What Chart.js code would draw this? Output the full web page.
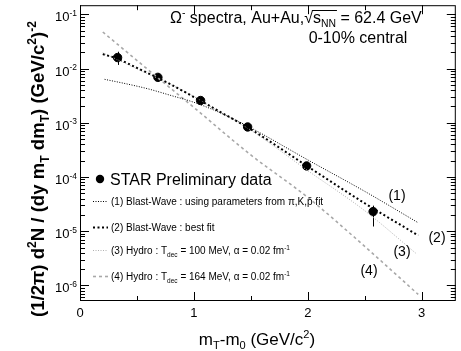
<!DOCTYPE html>
<html>
<head>
<meta charset="utf-8">
<script src="https://cdn.jsdelivr.net/npm/chart.js@4.4.0/dist/chart.umd.min.js"></script>
<style>
  body { margin: 0; background: #fff; }
  canvas { display: block; }
</style>
</head>
<body>
<canvas id="spectra" width="461" height="351"></canvas>
<script>
// STAR preliminary points
const starX = [0.33, 0.684, 1.059, 1.472, 1.99, 2.574];
const starY = [1.60e-2, 6.90e-3, 2.58e-3, 8.38e-4, 1.60e-4, 2.30e-5];
const starLow = [1.17e-2, 5.83e-3, 2.32e-3, 7.7e-4, 1.41e-4, 1.22e-5];
const starHigh = [2.05e-2, 8.17e-3, 2.87e-3, 9.1e-4, 1.82e-4, 2.96e-5];

// (1) blast-wave with pi,K,p parameters
const bw1X = [0.216, 0.4, 0.6, 0.8, 1.0, 1.25, 1.5, 2.0, 2.5, 2.97];
const bw1Y = [6.34e-3, 5.28e-3, 4.22e-3, 3.19e-3, 2.39e-3, 1.47e-3, 8.07e-4, 2.07e-4, 5.44e-5, 1.43e-5];
// (2) blast-wave best fit
const bw2X = [0.2, 0.33, 0.5, 0.75, 1.0, 1.25, 1.5, 2.0, 2.5, 2.97];
const bw2Y = [1.85e-2, 1.52e-2, 1.03e-2, 5.75e-3, 2.99e-3, 1.51e-3, 7.60e-4, 1.56e-4, 3.28e-5, 8.34e-6];
// (3) hydro Tdec = 100 MeV
const hy100X = [0.2, 0.5, 0.75, 1.0, 1.25, 1.5, 2.0, 2.5, 2.95];
const hy100Y = [1.95e-2, 9.95e-3, 5.64e-3, 3.05e-3, 1.49e-3, 7.30e-4, 1.31e-4, 2.39e-5, 3.9e-6];
// (4) hydro Tdec = 164 MeV
const hy164X = [0.2, 0.6, 1.0, 1.5, 2.0, 2.5, 2.97];
const hy164Y = [4.74e-2, 9.46e-3, 1.92e-3, 2.55e-4, 4.2e-5, 5.25e-6, 6.8e-7];

const xTickValues = [0, 1, 2, 3];
const xTickLabels = ['0', '1', '2', '3'];
const yTickExps = [-6, -5, -4, -3, -2, -1];

const pts = (xs, ys) => xs.map((x, i) => ({ x: x, y: ys[i] }));
const FAM = '"Liberation Sans", Arial, Helvetica, sans-serif';

function drawRich(c, parts, x, y, size, bold, align) {
    const w = bold ? 'bold ' : '';
    let total = 0;
    parts.forEach(p => {
        const s = p[1] ? size * 0.65 : size;
        c.font = w + s + 'px ' + FAM;
        p.w = c.measureText(p[0]).width;
        total += p.w;
    });
    let cx = align === 'right' ? x - total : align === 'center' ? x - total / 2 : x;
    parts.forEach(p => {
        const s = p[1] ? size * 0.65 : size;
        c.font = w + s + 'px ' + FAM;
        const dy = p[1] === 'sup' ? -size * 0.42 : p[1] === 'sub' ? size * 0.25 : 0;
        p.x0 = cx;
        c.fillText(p[0], cx, y + dy);
        cx += p.w;
    });
    return parts;
}

const decor = {
    id: 'decor',
    beforeDatasetsDraw(chart) {
        const c = chart.ctx, xs = chart.scales.x, ys = chart.scales.y;
        c.save();
        c.strokeStyle = '#000';
        c.lineWidth = 1;
        starX.forEach((x, i) => {
            const px = Math.round(xs.getPixelForValue(x)) + 0.5;
            c.beginPath();
            c.moveTo(px, ys.getPixelForValue(starLow[i]));
            c.lineTo(px, ys.getPixelForValue(starHigh[i]));
            c.stroke();
        });
        c.restore();
    },
    afterDraw(chart) {
        const c = chart.ctx, a = chart.chartArea;
        const xs = chart.scales.x, ys = chart.scales.y;
        c.save();
        c.fillStyle = '#000';
        c.strokeStyle = '#000';
        c.lineWidth = 1;
        c.textBaseline = 'alphabetic';
        // frame
        c.strokeRect(a.left + 0.5, a.top + 0.5, a.right - a.left - 1, a.bottom - a.top - 1);

        // y ticks (log, inward both sides)
        c.beginPath();
        for (let n = -7; n <= 0; n++) {
            for (let k = 1; k <= 9; k++) {
                const v = k * Math.pow(10, n);
                if (v < ys.min || v > ys.max) continue;
                const py = Math.round(ys.getPixelForValue(v)) + 0.5;
                const len = k === 1 ? 9 : 5;
                c.moveTo(a.left, py); c.lineTo(a.left + len, py);
                c.moveTo(a.right, py); c.lineTo(a.right - len, py);
            }
        }
        // x ticks every 0.5
        for (let i = 0; i <= 6; i++) {
            const v = i * 0.5;
            const px = Math.round(xs.getPixelForValue(v)) + 0.5;
            const len = i % 2 === 0 ? 9 : 5;
            c.moveTo(px, a.bottom); c.lineTo(px, a.bottom - len);
            c.moveTo(px, a.top); c.lineTo(px, a.top + len);
        }
        c.stroke();

        // y tick labels
        yTickExps.forEach(n => {
            const py = ys.getPixelForValue(Math.pow(10, n));
            drawRich(c, [['10'], [String(n), 'sup']], 77, py + 7, 13, false, 'right');
        });
        // x tick labels
        c.font = '13px ' + FAM;
        c.textAlign = 'center';
        xTickValues.forEach((v, i) => {
            c.fillText(xTickLabels[i], xs.getPixelForValue(v), 317);
        });
        c.textAlign = 'left';

        // axis titles
        drawRich(c, [['m'], ['T', 'sub'], ['-m'], ['0', 'sub'], [' (GeV/c'], ['2', 'sup'], [')']], 257, 345, 17, false, 'center');
        c.save();
        c.translate(44, 169);
        c.rotate(-Math.PI / 2);
        drawRich(c, [['(1/2π) d'], ['2', 'sup'], ['N / (dy m'], ['T', 'sub'], [' dm'], ['T', 'sub'], [') (GeV/c'], ['2', 'sup'], [')'], ['-2', 'sup']], 0, 0, 18.6, true, 'center');
        c.restore();

        // header text
        const head = drawRich(c, [['Ω'], ['-', 'sup'], [' spectra, Au+Au,'], ['√'], ['s'], ['NN', 'sub'], [' = 62.4 GeV']], 170, 23, 16, false, 'left');
        c.beginPath();
        c.moveTo(head[3].x0 + head[3].w - 1, 10.5);
        c.lineTo(head[5].x0 + head[5].w + 1, 10.5);
        c.stroke();
        c.font = '16px ' + FAM;
        c.textAlign = 'center';
        c.fillText('0-10% central', 358, 43);

        // curve labels
        c.font = '14px ' + FAM;
        c.fillText('(1)', 397, 200);
        c.fillText('(2)', 437, 242);
        c.fillText('(3)', 402, 256);
        c.fillText('(4)', 369, 275);
        c.textAlign = 'left';

        // legend
        c.beginPath();
        c.arc(100, 179, 4.2, 0, Math.PI * 2);
        c.fill();
        c.font = '16px ' + FAM;
        c.fillText('STAR Preliminary data', 110, 185);

        const rows = [
            { ds: 0, y: 201, parts: [['(1) Blast-Wave : using parameters from π,K,p̄ fit']] },
            { ds: 1, y: 227, parts: [['(2) Blast-Wave : best fit']] },
            { ds: 2, y: 250, parts: [['(3) Hydro : T'], ['dec', 'sub'], [' = 100 MeV, α = 0.02 fm'], ['-1', 'sup']] },
            { ds: 3, y: 276, parts: [['(4) Hydro : T'], ['dec', 'sub'], [' = 164 MeV, α = 0.02 fm'], ['-1', 'sup']] }
        ];
        rows.forEach(r => {
            const d = chart.data.datasets[r.ds];
            c.save();
            c.strokeStyle = d.borderColor;
            c.lineWidth = d.borderWidth;
            c.setLineDash(d.borderDash);
            c.beginPath();
            c.moveTo(93, r.y + 0.5);
            c.lineTo(108, r.y + 0.5);
            c.stroke();
            c.restore();
            drawRich(c, r.parts, 111, r.y + 4, 10, false, 'left');
        });
        c.restore();
    }
};

const chart = new Chart(document.getElementById('spectra').getContext('2d'), {
    type: 'scatter',
    data: {
        datasets: [
            {
                label: '(1)',
                data: pts(bw1X, bw1Y),
                showLine: true,
                borderColor: '#000',
                borderWidth: 1,
                borderDash: [1, 1.5],
                pointRadius: 0,
                cubicInterpolationMode: 'monotone'
            },
            {
                label: '(2)',
                data: pts(bw2X, bw2Y),
                showLine: true,
                borderColor: '#000',
                borderWidth: 2,
                borderDash: [2, 2.5],
                pointRadius: 0,
                cubicInterpolationMode: 'monotone'
            },
            {
                label: '(3)',
                data: pts(hy100X, hy100Y),
                showLine: true,
                borderColor: '#b0b0b0',
                borderWidth: 1,
                borderDash: [1, 1.5],
                pointRadius: 0,
                cubicInterpolationMode: 'monotone'
            },
            {
                label: '(4)',
                data: pts(hy164X, hy164Y),
                showLine: true,
                borderColor: '#a8a8a8',
                borderWidth: 1.6,
                borderDash: [3, 3],
                pointRadius: 0,
                cubicInterpolationMode: 'monotone'
            },
            {
                label: 'STAR Preliminary data',
                data: pts(starX, starY),
                showLine: false,
                backgroundColor: '#000',
                borderColor: '#000',
                pointRadius: 4.2,
                pointHoverRadius: 4.2
            }
        ]
    },
    options: {
        responsive: false,
        animation: false,
        layout: { padding: { left: 80, right: 0, top: 3, bottom: 50 } },
        plugins: { legend: { display: false }, tooltip: { enabled: false } },
        scales: {
            x: { type: 'linear', min: 0, max: 3.3, display: false },
            y: { type: 'logarithmic', min: 5.15e-7, max: 0.148, display: false }
        }
    },
    plugins: [decor]
});
</script>
</body>
</html>
